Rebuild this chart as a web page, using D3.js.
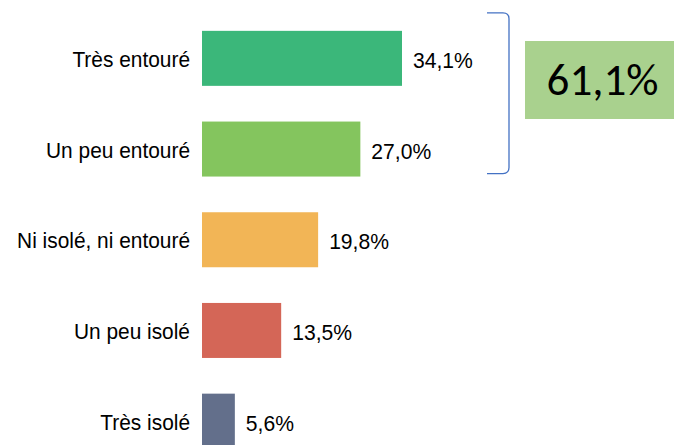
<!DOCTYPE html>
<html lang="fr">
<head>
	<meta charset="UTF-8">
	<title>Entourage</title>
	<script src="https://cdnjs.cloudflare.com/ajax/libs/d3/7.8.5/d3.min.js"></script>
	<style>
		body { margin: 0; background: #fff; }
		svg { display: block; }
	</style>
</head>
<body>
<script type="text/javascript">
	// data
	var categories = ['Très entouré', 'Un peu entouré', 'Ni isolé, ni entouré', 'Un peu isolé', 'Très isolé'];
	var values = [34.1, 27.0, 19.8, 13.5, 5.6];
	var barColors = ['#3bb77a', '#84c55e', '#f2b556', '#d46657', '#636f8b'];
	var groupTotal = 61.1;   // first two categories together
	var groupCats = ['Très entouré', 'Un peu entouré'];

	var width = 674, height = 445;

	var svg = d3.select('body')
		.append('svg')
		.attr('width', width)
		.attr('height', height);

	var fmt = function (v) {
		return d3.format('.1f')(v).replace('.', ',') + '%';
	};

	var x = d3.scaleLinear()
		.domain([0, 40])
		.range([202, 202 + 234.6]);

	var y = d3.scaleBand()
		.domain(categories)
		.range([13, 466.5])
		.paddingInner(0.3936)
		.paddingOuter(0.1968);

	var color = d3.scaleOrdinal()
		.domain(categories)
		.range(barColors);

	var rows = categories.map(function (c, i) {
		return {cat: c, value: values[i]};
	});

	svg.selectAll('.bar')
		.data(rows)
		.enter().append('rect')
		.attr('class', 'bar')
		.attr('x', x(0))
		.attr('y', function (d) { return y(d.cat); })
		.attr('width', function (d) { return x(d.value) - x(0); })
		.attr('height', y.bandwidth())
		.style('fill', function (d) { return color(d.cat); });

	// category labels on the left (the original font is a bit narrow)
	svg.selectAll('.cat')
		.data(rows)
		.enter().append('text')
		.attr('class', 'cat')
		.attr('transform', function (d) {
			return 'translate(' + (x(0) - 12) + ',' + (y(d.cat) + y.bandwidth() / 2 + 8.5) + ') scale(0.95,1)';
		})
		.attr('text-anchor', 'end')
		.style('font-family', 'Arial, "Liberation Sans", sans-serif')
		.style('font-size', '22px')
		.style('fill', '#000')
		.text(function (d) { return d.cat; });

	// value labels after the bars
	svg.selectAll('.val')
		.data(rows)
		.enter().append('text')
		.attr('class', 'val')
		.attr('transform', function (d) {
			return 'translate(' + (x(d.value) + 11) + ',' + (y(d.cat) + y.bandwidth() / 2 + 9.5) + ') scale(0.96,1)';
		})
		.style('font-family', 'Arial, "Liberation Sans", sans-serif')
		.style('font-size', '22px')
		.style('fill', '#000')
		.text(function (d) { return fmt(d.value); });

	// bracket around the first two bars
	var bx = 509, bl = 487, r = 6;
	var bTop = y(groupCats[0]) - 18;
	var bBot = y(groupCats[1]) + y.bandwidth() - 3;
	var path = d3.path();
	path.moveTo(bl, bTop);
	path.lineTo(bx - r, bTop);
	path.quadraticCurveTo(bx, bTop, bx, bTop + r);
	path.lineTo(bx, bBot - r);
	path.quadraticCurveTo(bx, bBot, bx - r, bBot);
	path.lineTo(bl, bBot);
	svg.append('path')
		.attr('d', path.toString())
		.attr('fill', 'none')
		.attr('stroke', '#4472c4')
		.attr('stroke-width', 1.3);

	// total box
	var box = svg.append('g').attr('transform', 'translate(525,41)');
	box.append('rect')
		.attr('width', 155)
		.attr('height', 78)
		.style('fill', '#a9d18e');
	box.append('text')
		.attr('x', 77.5)
		.attr('y', 53.5)
		.attr('text-anchor', 'middle')
		.style('font-family', 'Carlito, Calibri, Lato, sans-serif')
		.style('font-size', '45px')
		.style('fill', '#000')
		.text(fmt(groupTotal));
</script>
</body>
</html>
